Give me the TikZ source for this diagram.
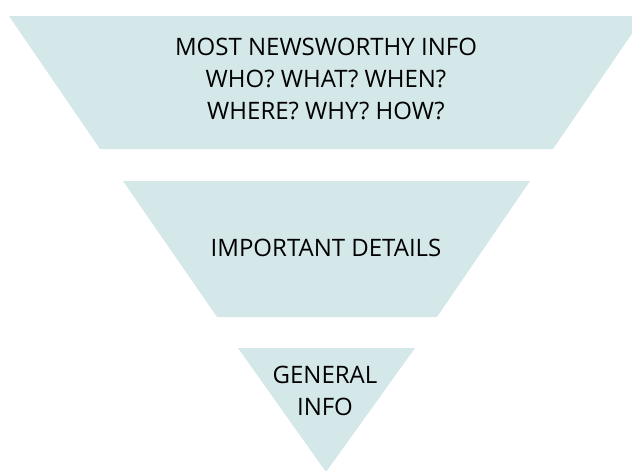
\documentclass[tikz,border=0pt]{standalone}
\usepackage{fontspec}
\setmainfont{Open Sans}
\usepackage{tikz}
\definecolor{funnel}{RGB}{212,231,233}

\begin{document}
\begin{tikzpicture}[x=1pt,y=-1pt]
   \useasboundingbox (0,0) rectangle (632,471);
   \clip (0,0) rectangle (632,471);
   \tikzset{label/.style={align=center,font=\fontsize{24}{32}\selectfont,inner sep=0pt}}

   \fill[funnel] (9,16) -- (644,16) -- (553,149) -- (100,149) -- cycle;
   \fill[funnel] (123,181) -- (530,181) -- (437,317) -- (217,317) -- cycle;
   \fill[funnel] (238,348) -- (415,348) -- (326,472) -- cycle;

   \node[label] (top) at (326,79) {MOST NEWSWORTHY INFO\\WHO? WHAT? WHEN?\\WHERE? WHY? HOW?};
   \node[label] (mid) at (326,248) {IMPORTANT DETAILS};
   \node[label] (low) at (325,391) {GENERAL\\INFO};
\end{tikzpicture}
\end{document}
